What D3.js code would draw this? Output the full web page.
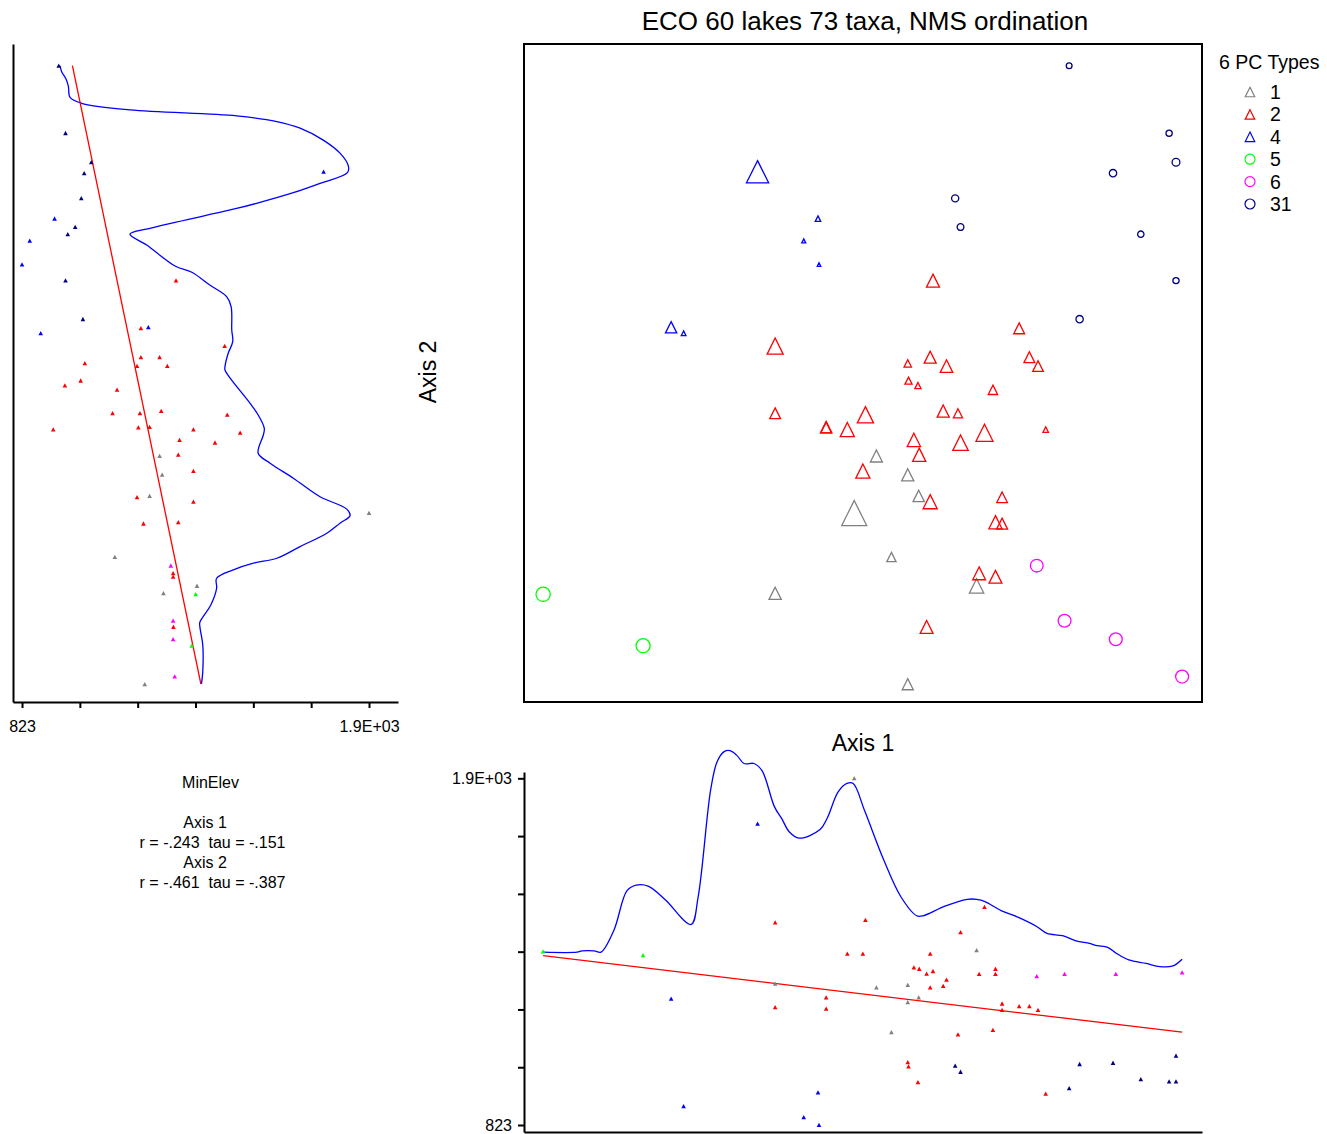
<!DOCTYPE html>
<html>
<head>
<meta charset="utf-8">
<script src="https://cdn.jsdelivr.net/npm/d3@7"></script>
<style>
  body { margin: 0; background: #fff; }
  svg { font-family: "Liberation Sans", Arial, sans-serif; }
  .stats text { white-space: pre; }
</style>
</head>
<body>
<svg id="chart" width="1327" height="1134"></svg>
<script>
// ---- data ----
const groupNames = ["1", "2", "4", "5", "6", "31"];

// PC type of each lake
const lakeGroup = [
  "31","31","31","31","31","31","31","31","31",
  "4","4","4","4","4","4",
  "5","5",
  "6","6","6","6",
  "1","1","1","1","1","1","1","1",
  "2","2","2","2","2","2","2","2","2","2","2","2","2","2","2","2",
  "2","2","2","2","2","2","2","2","2","2","2","2","2","2","2"
];

// NMS scores
const axis1 = [
  0.812, 1.204, 1.231, 0.984, 0.365, 0.386, 1.093, 1.231, 0.853,
  -0.410, -0.173, -0.229, -0.169, -0.749, -0.700,
  -1.251, -0.859,
  0.685, 0.794, 0.995, 1.255,
  0.056, 0.179, 0.222, -0.031, 0.115, -0.341, 0.449, 0.179,
  0.278, 0.616, -0.341, 0.179, 0.267, 0.331, 0.656, 0.690, 0.182, 0.219,
  0.513, -0.341, 0.318, 0.376, 0.013, -0.141, -0.141, -0.058, 0.720, 0.480,
  0.203, 0.386, 0.224, 0.003, 0.267, 0.549, 0.523, 0.549, 0.459, 0.523, 0.253
];
const axis2 = [
  1.252, 0.979, 0.861, 0.817, 0.715, 0.599, 0.570, 0.382, 0.226,
  0.823, 0.633, 0.543, 0.447, 0.193, 0.169,
  -0.888, -1.096,
  -0.772, -0.995, -1.070, -1.221,
  -0.328, -0.404, -0.490, -0.559, -0.737, -0.884, -0.854, -1.252,
  0.382, 0.189, 0.117, 0.047, 0.072, 0.036, 0.072, 0.036, -0.023, -0.043,
  -0.060, -0.155, -0.146, -0.155, -0.161, -0.211, -0.213, -0.221, -0.221, -0.234,
  -0.263, -0.274, -0.323, -0.389, -0.513, -0.495, -0.596, -0.602, -0.803, -0.817, -1.020
];

// MinElev of each lake
const minElev = [
  937, 958, 1038, 1016, 1007, 988, 965, 958, 1012,
  1759, 924, 847, 823, 1215, 881,
  1362, 1350,
  1285, 1292, 1292, 1297,
  1250, 1258, 1219, 1900, 1111, 1262, 1366, 1204,
  1301, 1192, 1452, 1018, 1250, 1274, 1192, 1180, 1005, 956,
  1118, 1189, 1255, 1104, 1460, 1219, 1184, 1355, 920, 1500,
  1312, 1422, 1308, 1355, 1355, 1180, 1308, 1200, 1292, 1292, 1293
];

// smoothed MinElev along axis 1
const smooth1Axis = [
  -1.251, -1.118, -1.098, -1.051, -1.024, -0.973, -0.922, -0.886, -0.839, -0.771,
  -0.671, -0.643, -0.594, -0.569, -0.541, -0.518, -0.492, -0.463, -0.424, -0.392,
  -0.344, -0.314, -0.286, -0.247, -0.165, -0.137, -0.094, -0.059, -0.035, 0.010,
  0.085, 0.152, 0.214, 0.239, 0.325, 0.412, 0.450, 0.482, 0.545, 0.613,
  0.686, 0.725, 0.786, 0.839, 0.892, 0.922, 0.963, 0.998, 1.046, 1.114,
  1.167, 1.219, 1.255
];
const smooth1Elev = [
  1360, 1360, 1364, 1364, 1360, 1429, 1551, 1568, 1565, 1522,
  1446, 1532, 1864, 1951, 1983, 1986, 1972, 1946, 1946, 1923,
  1812, 1773, 1734, 1714, 1741, 1776, 1858, 1884, 1884, 1799,
  1646, 1532, 1473, 1473, 1503, 1524, 1524, 1517, 1489, 1468,
  1439, 1418, 1411, 1395, 1387, 1380, 1375, 1356, 1336, 1325,
  1315, 1317, 1338
];

// smoothed MinElev along axis 2
const smooth2Axis = [
  1.251, 1.228, 1.197, 1.167, 1.124, 1.100, 1.073, 1.049, 1.026, 0.999,
  0.951, 0.898, 0.846, 0.819, 0.776, 0.738, 0.695, 0.671, 0.594, 0.570,
  0.526, 0.441, 0.416, 0.364, 0.317, 0.277, 0.182, 0.135, 0.088, 0.034,
  0.020, -0.013, -0.115, -0.162, -0.216, -0.243, -0.317, -0.357, -0.418, -0.493,
  -0.543, -0.570, -0.600, -0.641, -0.695, -0.742, -0.762, -0.789, -0.823, -0.864,
  -0.931, -1.001, -1.019, -1.093, -1.201, -1.251
];
const smooth2Elev = [
  941, 946, 960, 967, 972, 1008, 1158, 1489, 1614, 1686,
  1758, 1810, 1836, 1833, 1748, 1665, 1551, 1479, 1220, 1158,
  1210, 1298, 1350, 1406, 1458, 1472, 1474, 1477, 1463, 1453,
  1453, 1469, 1531, 1556, 1575, 1572, 1556, 1593, 1665, 1748,
  1831, 1841, 1810, 1769, 1686, 1614, 1541, 1479, 1427, 1427,
  1409, 1375, 1375, 1384, 1384, 1380
];

const elevTicks = [823, 1002.5, 1182, 1361.5, 1541, 1720.5, 1900];
const elevTickLabels = ["823", "", "", "", "", "", "1.9E+03"];
const statsLines = ["MinElev", "", "Axis 1", "r = -.243  tau = -.151", "Axis 2", "r = -.461  tau = -.387"];

// ---- styles ----
const groupColor = d3.scaleOrdinal(groupNames,
  ["#808080", "#ff0000", "#0000ff", "#00ff00", "#ff00ff", "#000080"]);
const circleGroups = ["5", "6", "31"];

const lakes = lakeGroup.map((g, i) => ({ group: g, a1: axis1[i], a2: axis2[i], elev: minElev[i] }));

const svg = d3.select("#chart");

// ---- scales ----
const x1 = d3.scaleLinear().domain([-1.326, 1.333]).range([524, 1202]);
const y2 = d3.scaleLinear().domain([-1.324, 1.340]).range([702, 44]);
const elevX = d3.scaleLinear().domain([795, 1990]).range([13, 398]);       // left panel
const elevY = d3.scaleLinear().domain([801.3, 1919.6]).range([1132, 772]); // bottom panel
const symSize = d3.scaleLinear().domain([823, 1900]).range([3.5, 25]);

function triangle(s) {
  const h = s / 2;
  return `M0,${-h}L${h},${h}L${-h},${h}Z`;
}
function symbolPath(g, s) {
  if (circleGroups.includes(g)) {
    const r = s / 2;
    return `M${r},0A${r},${r} 0 1,1 ${-r},0A${r},${r} 0 1,1 ${r},0Z`;
  }
  return triangle(s);
}

// ---- title ----
svg.append("text")
  .attr("x", 865).attr("y", 30)
  .attr("text-anchor", "middle")
  .style("font-size", "26px")
  .text("ECO 60 lakes 73 taxa, NMS ordination");

// ---- main ordination ----
svg.append("rect")
  .attr("x", 524).attr("y", 44)
  .attr("width", 678).attr("height", 658)
  .attr("fill", "none").attr("stroke", "#000").attr("stroke-width", 2);

svg.append("g").selectAll("path")
  .data(lakes)
  .join("path")
  .attr("transform", d => `translate(${x1(d.a1)},${y2(d.a2)})`)
  .attr("d", d => symbolPath(d.group, symSize(d.elev)))
  .attr("fill", "none")
  .attr("stroke", d => groupColor(d.group))
  .attr("stroke-width", 1.3);

svg.append("text")
  .attr("transform", "translate(436,372) rotate(-90)")
  .attr("text-anchor", "middle")
  .style("font-size", "23px")
  .text("Axis 2");

svg.append("text")
  .attr("x", 863).attr("y", 751)
  .attr("text-anchor", "middle")
  .style("font-size", "23px")
  .text("Axis 1");

// ---- legend ----
const legend = svg.append("g").attr("transform", "translate(1219,0)");
legend.append("text")
  .attr("x", 0).attr("y", 69)
  .style("font-size", "19.5px")
  .text(`${groupNames.length} PC Types`);
const item = legend.selectAll("g.item")
  .data(groupNames)
  .join("g")
  .attr("class", "item")
  .attr("transform", (d, i) => `translate(0,${92 + i * 22.4})`);
item.append("path")
  .attr("transform", "translate(31,0)")
  .attr("d", d => circleGroups.includes(d) ? symbolPath(d, 10) : triangle(9.5))
  .attr("fill", "none")
  .attr("stroke", d => groupColor(d))
  .attr("stroke-width", 1.2);
item.append("text")
  .attr("x", 51).attr("y", 7)
  .style("font-size", "19.5px")
  .text(d => d);

// ---- regression helper ----
function fit(xs, ys) {
  const mx = d3.mean(xs), my = d3.mean(ys);
  const b = d3.sum(xs, (v, i) => (v - mx) * (ys[i] - my)) / d3.sum(xs, v => (v - mx) ** 2);
  return v => my + b * (v - mx);
}

const smallTri = "M0,-2.3L2.3,2L-2.3,2Z";

// ---- left panel: MinElev vs axis 2 ----
const left = svg.append("g");
left.append("g")
  .attr("transform", "translate(0,702)")
  .call(d3.axisBottom(elevX).tickValues(elevTicks)
    .tickFormat((d, i) => elevTickLabels[i]).tickSize(6).tickSizeOuter(0).tickPadding(13))
  .call(g => g.selectAll("path, line").attr("stroke-width", 2))
  .call(g => g.selectAll("text").style("font-size", "16px").style("font-family", "Liberation Sans, Arial, sans-serif"));
left.append("g")
  .attr("transform", "translate(13,0)")
  .call(d3.axisLeft(y2).tickValues([]).tickSizeOuter(0))
  .call(g => g.select("path").attr("stroke-width", 2));

left.append("path")
  .datum(smooth2Axis.map((a, i) => [smooth2Elev[i], a]))
  .attr("fill", "none").attr("stroke", "#0000ff").attr("stroke-width", 1.3)
  .attr("d", d3.line().x(d => elevX(d[0])).y(d => y2(d[1])).curve(d3.curveCatmullRom.alpha(0.5)));

const fit2 = fit(axis2, minElev);
const a2ext = d3.extent(axis2);
left.append("line")
  .attr("x1", elevX(fit2(a2ext[1]))).attr("y1", y2(a2ext[1]))
  .attr("x2", elevX(fit2(a2ext[0]))).attr("y2", y2(a2ext[0]))
  .attr("stroke", "#ff0000").attr("stroke-width", 1.3);

left.append("g").selectAll("path")
  .data(lakes)
  .join("path")
  .attr("transform", d => `translate(${elevX(d.elev)},${y2(d.a2)})`)
  .attr("d", smallTri)
  .attr("fill", d => groupColor(d.group));

// ---- bottom panel: MinElev vs axis 1 ----
const bottom = svg.append("g");
bottom.append("g")
  .attr("transform", "translate(524,0)")
  .call(d3.axisLeft(elevY).tickValues(elevTicks)
    .tickFormat((d, i) => elevTickLabels[i]).tickSize(6).tickSizeOuter(0).tickPadding(6))
  .call(g => g.selectAll("path, line").attr("stroke-width", 2))
  .call(g => g.selectAll("text").style("font-size", "16px").style("font-family", "Liberation Sans, Arial, sans-serif"));
bottom.append("g")
  .attr("transform", "translate(0,1132)")
  .call(d3.axisBottom(x1).tickValues([]).tickSizeOuter(0))
  .call(g => g.select("path").attr("stroke-width", 2));

bottom.append("path")
  .datum(smooth1Axis.map((a, i) => [a, smooth1Elev[i]]))
  .attr("fill", "none").attr("stroke", "#0000ff").attr("stroke-width", 1.3)
  .attr("d", d3.line().x(d => x1(d[0])).y(d => elevY(d[1])).curve(d3.curveCatmullRom.alpha(0.5)));

const fit1 = fit(axis1, minElev);
const a1ext = d3.extent(axis1);
bottom.append("line")
  .attr("x1", x1(a1ext[0])).attr("y1", elevY(fit1(a1ext[0])))
  .attr("x2", x1(a1ext[1])).attr("y2", elevY(fit1(a1ext[1])))
  .attr("stroke", "#ff0000").attr("stroke-width", 1.3);

bottom.append("g").selectAll("path")
  .data(lakes)
  .join("path")
  .attr("transform", d => `translate(${x1(d.a1)},${elevY(d.elev)})`)
  .attr("d", smallTri)
  .attr("fill", d => groupColor(d.group));

// ---- correlation text ----
const statX = [210.5, 0, 205, 212.5, 205, 212.5];
svg.append("g").attr("class", "stats").selectAll("text")
  .data(statsLines)
  .join("text")
  .attr("x", (d, i) => statX[i])
  .attr("y", (d, i) => 788 + i * 20)
  .attr("text-anchor", "middle")
  .style("font-size", "16px")
  .text(d => d);
</script>
</body>
</html>
